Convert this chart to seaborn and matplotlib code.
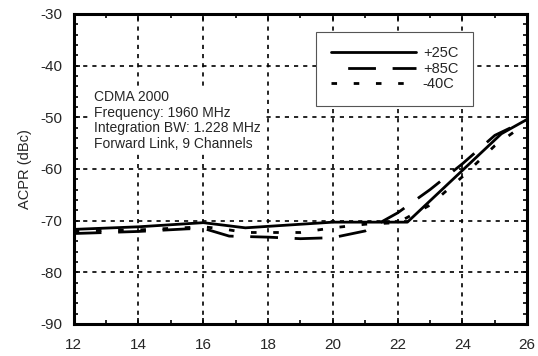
import pandas as pd
import seaborn as sns
import matplotlib.pyplot as plt
from matplotlib.ticker import MultipleLocator

sns.set_theme(style="white")
plt.rcParams["font.family"] = ["Liberation Sans", "DejaVu Sans"]
plt.rcParams["axes.unicode_minus"] = False

# --- data ---
x_25 = [12, 14, 16, 17.3, 20, 22.3, 25.2, 26]
y_25 = [-71.7, -71.2, -70.4, -71.4, -70.3, -70.3, -53.2, -50.4]

x_85 = [12, 14, 15.5, 16, 16.8, 18, 19, 20, 21, 22, 23, 24, 25, 26]
y_85 = [-72.5, -72.1, -71.6, -71.5, -73.0, -73.2, -73.5, -73.3, -72.0, -68.5, -64.0, -59.0, -53.5, -50.5]

x_40 = [12, 14, 16, 16.6, 17.3, 18, 19, 20, 21, 22, 23, 24, 25, 26]
y_40 = [-72.0, -71.8, -71.2, -71.6, -72.3, -72.3, -72.3, -71.4, -70.7, -70.4, -67.0, -61.5, -55.5, -51.0]

temps = ["+25C", "+85C", "-40C"]

df = pd.concat([
    pd.DataFrame({"pout": x_25, "acpr": y_25, "temp": temps[0]}),
    pd.DataFrame({"pout": x_85, "acpr": y_85, "temp": temps[1]}),
    pd.DataFrame({"pout": x_40, "acpr": y_40, "temp": temps[2]}),
])

fig = plt.figure(figsize=(5.38, 3.56), dpi=100)
ax = fig.add_axes([0.137, 0.09, 0.843, 0.871])

sns.lineplot(
    data=df, x="pout", y="acpr", style="temp", style_order=temps,
    dashes={"+25C": "", "+85C": (10, 6), "-40C": (2, 6)},
    color="black", linewidth=2, sort=False, estimator=None, ax=ax,
)

ax.set_xlim(12, 26)
ax.set_ylim(-90, -30)
ax.xaxis.set_major_locator(MultipleLocator(2))
ax.xaxis.set_minor_locator(MultipleLocator(1))
ax.yaxis.set_major_locator(MultipleLocator(10))
ax.yaxis.set_minor_locator(MultipleLocator(2))
ax.tick_params(which="both", direction="in", top=True, right=True,
               bottom=True, left=True, color="black", labelsize=11)
ax.tick_params(which="major", length=4, width=1.2)
ax.tick_params(which="minor", length=3, width=1.2)
ax.tick_params(axis="x", which="major", pad=10)
ax.tick_params(axis="y", which="major", pad=8)
ax.grid(True, which="major", color="black", linestyle=(0, (2.5, 3)), linewidth=1.2)
for s in ax.spines.values():
    s.set_color("black")
    s.set_linewidth(2.2)

ax.set_xlabel("")
ax.set_ylabel("ACPR (dBc)", fontsize=10.5, labelpad=6)

ax.text(0.044, 0.755,
        "CDMA 2000\nFrequency: 1960 MHz\nIntegration BW: 1.228 MHz\nForward Link, 9 Channels",
        transform=ax.transAxes, fontsize=10, va="top", ha="left", linespacing=1.15,
        bbox=dict(facecolor="white", edgecolor="none", pad=1))

leg = ax.legend(loc="upper right", bbox_to_anchor=(0.88, 0.942), fontsize=10.5,
                handlelength=5.8, handletextpad=0.5, labelspacing=0.1,
                frameon=True, fancybox=False, borderpad=1.0, borderaxespad=0,
                framealpha=1)
leg.get_frame().set_edgecolor("#555555")
leg.get_frame().set_linewidth(0.8)
# legend dashed sample starts with a gap, like the original
leg.get_lines()[1].set_linestyle((10, (10, 6)))

fig.savefig("out.png", dpi=100)
